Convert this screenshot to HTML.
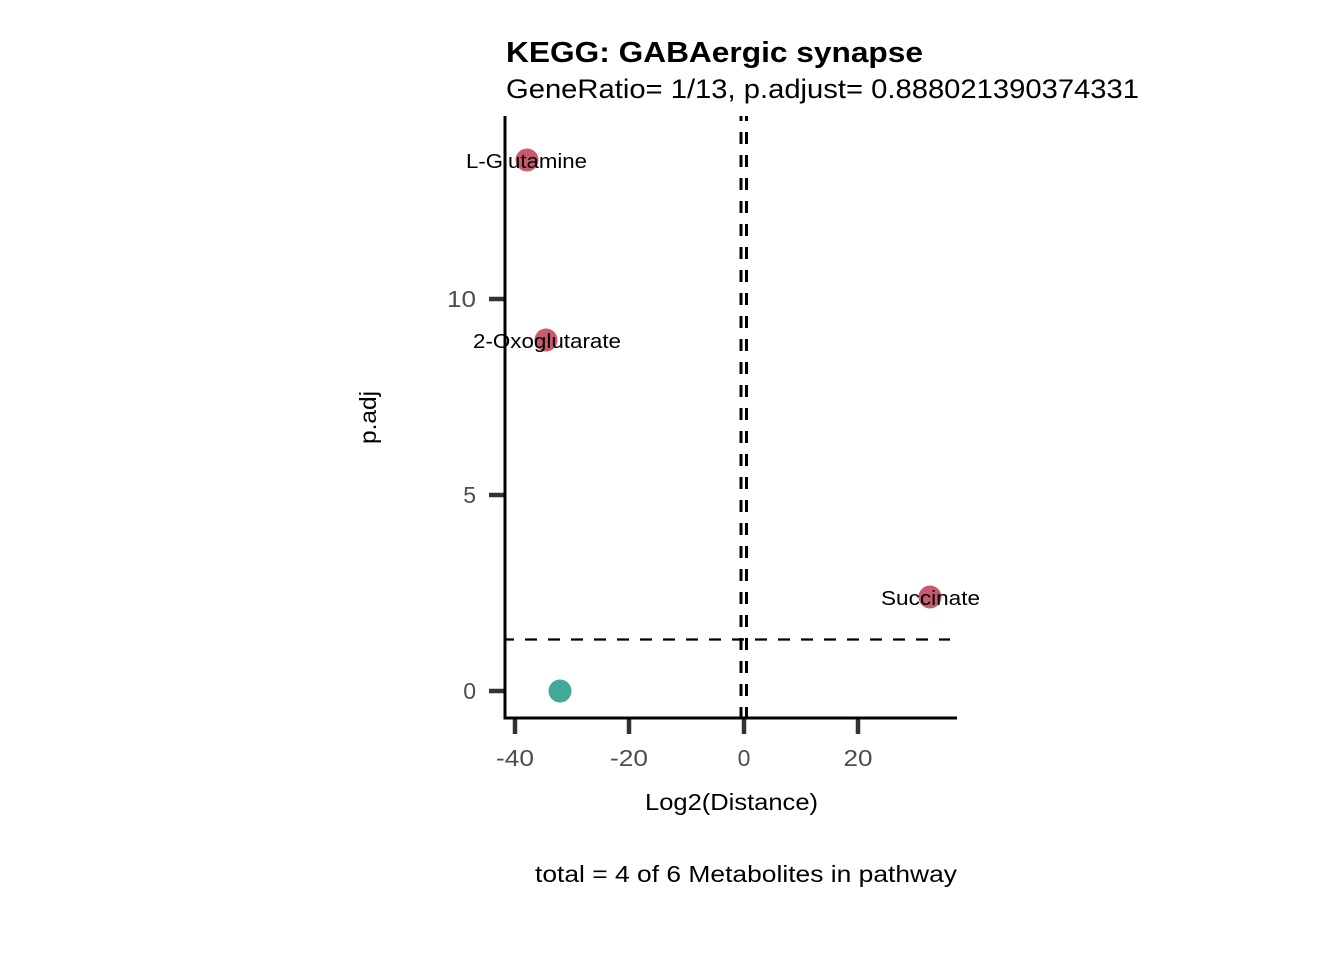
<!DOCTYPE html>
<html><head><meta charset="utf-8"><style>
body{margin:0;background:#fff}
svg{display:block}
text{font-family:"Liberation Sans",sans-serif}
</style></head><body>
<svg width="1344" height="960" viewBox="0 0 1344 960">
<rect width="1344" height="960" fill="#fff"/>
<text x="506" y="62" font-size="29" font-weight="bold" textLength="417" lengthAdjust="spacingAndGlyphs">KEGG: GABAergic synapse</text>
<text x="506" y="98" font-size="27" textLength="633" lengthAdjust="spacingAndGlyphs">GeneRatio= 1/13, p.adjust= 0.888021390374331</text>
<g stroke="#000" stroke-width="3" stroke-dasharray="12 11" stroke-dashoffset="7" fill="none">
<line x1="741" y1="116" x2="741" y2="718"/>
<line x1="746.5" y1="116" x2="746.5" y2="718"/>
</g>
<line x1="505" y1="639.5" x2="950" y2="639.5" stroke="#000" stroke-width="2.3" stroke-dasharray="12 11" stroke-dashoffset="3"/>
<g stroke="#333" stroke-width="4.5">
<line x1="489" y1="299" x2="505" y2="299"/>
<line x1="489" y1="495" x2="505" y2="495"/>
<line x1="489" y1="691" x2="505" y2="691"/>
<line x1="515" y1="718" x2="515" y2="734"/>
<line x1="629" y1="718" x2="629" y2="734"/>
<line x1="744" y1="718" x2="744" y2="734"/>
<line x1="858" y1="718" x2="858" y2="734"/>
</g>
<line x1="505" y1="116" x2="505" y2="719.5" stroke="#000" stroke-width="3"/>
<line x1="503.5" y1="718" x2="957" y2="718" stroke="#000" stroke-width="3"/>
<g fill="#4d4d4d" font-size="23" text-anchor="end">
<text x="476" y="307" textLength="29" lengthAdjust="spacingAndGlyphs">10</text><text x="476" y="503">5</text><text x="476" y="699">0</text>
</g>
<g fill="#4d4d4d" font-size="23" text-anchor="middle">
<text x="515" y="766" textLength="38" lengthAdjust="spacingAndGlyphs">-40</text><text x="629" y="766" textLength="38" lengthAdjust="spacingAndGlyphs">-20</text><text x="744" y="766">0</text><text x="858" y="766" textLength="29" lengthAdjust="spacingAndGlyphs">20</text>
</g>
<text x="645" y="810" font-size="23" textLength="173" lengthAdjust="spacingAndGlyphs">Log2(Distance)</text>
<text transform="translate(376,444) rotate(-90)" font-size="23" textLength="53" lengthAdjust="spacingAndGlyphs">p.adj</text>
<text x="535" y="882" font-size="23" textLength="422" lengthAdjust="spacingAndGlyphs">total = 4 of 6 Metabolites in pathway</text>
<g fill="#c65b6d">
<circle cx="527" cy="160" r="11.5"/><circle cx="546" cy="340" r="11.5"/><circle cx="930" cy="597" r="11.5"/>
</g>
<circle cx="560" cy="691" r="11.5" fill="#40a998"/>
<g font-size="20">
<text x="466" y="168" textLength="121" lengthAdjust="spacingAndGlyphs">L-Glutamine</text>
<text x="473" y="348" textLength="148" lengthAdjust="spacingAndGlyphs">2-Oxoglutarate</text>
<text x="881" y="605" textLength="99" lengthAdjust="spacingAndGlyphs">Succinate</text>
</g>
</svg>
</body></html>
